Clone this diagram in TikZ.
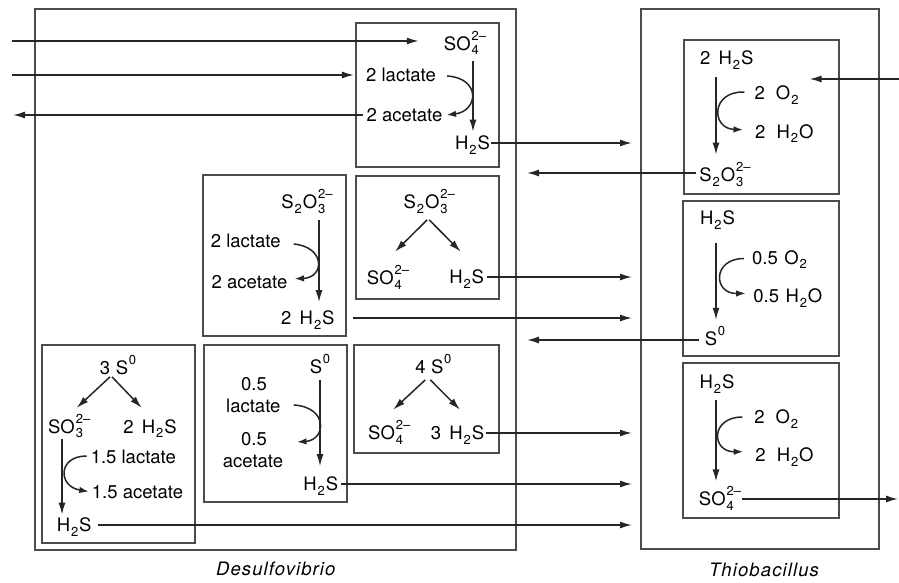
\documentclass[tikz,border=0pt]{standalone}
\usepackage{fontspec}
\setmainfont{TeX Gyre Heros}
\usetikzlibrary{arrows.meta,calc}
\newcommand{\chscr}{\fontsize{13}{13}\selectfont}
\newcommand{\chsub}[1]{\kern0.9pt\raisebox{-4.5pt}{\chscr #1}\kern0.9pt}
\newcommand{\chsup}[1]{\kern0.6pt\raisebox{10pt}{\chscr #1}}
\newcommand{\chss}[2]{\kern0.9pt\rlap{\raisebox{-4.5pt}{\chscr #1}}\raisebox{10pt}{\chscr #2}}
\newcommand{\chg}{2\textendash}
\begin{document}
\begin{tikzpicture}[x=1pt,y=-1pt,
  lbl/.style={inner sep=0pt,text height=13.3pt,text depth=0pt,text=black,font=\fontsize{18.5}{22}\selectfont},
  org/.style={inner sep=0pt,text height=13.3pt,text depth=0pt,text=black,font=\fontsize{18.5}{22}\selectfont\itshape\addfontfeatures{LetterSpace=6}},
  arr/.style={line width=1.5pt,draw=black!85,-{Latex[length=12pt,width=7pt]}},
  carr/.style={line width=1.5pt,draw=black!85,-{Latex[length=9.5pt,width=6.5pt]}},
  box/.style={line width=1.6pt,draw=black!70}]
\fill[white] (0,0) rectangle (899,583);
\useasboundingbox (0,0) rectangle (899,583);
% outer boxes
\draw[box] (35,9) rectangle (516,550);
\draw[box] (641,9) rectangle (879,549);
% inner boxes Desulfovibrio
\draw[box] (356,23) rectangle (499,167);
\draw[box] (203,175) rectangle (346,336);
\draw[box] (356,176) rectangle (499,299);
\draw[box] (42,345) rectangle (195,543);
\draw[box] (204,345) rectangle (347,502);
\draw[box] (354,345) rectangle (499,453);
% inner boxes Thiobacillus
\draw[box] (684,40) rectangle (839,194);
\draw[box] (683,201) rectangle (839,356);
\draw[box] (683,363) rectangle (839,518);

% ---------- Box A ----------
\node[lbl] (sA) at (465,43.5) {SO\chss{4}{\chg}};
\node[lbl] (lacA) at (401,75) {2 lactate};
\node[lbl] (aceA) at (404.5,115) {2 acetate};
\node[lbl] (hA) at (472.5,143) {H\chsub{2}S};
\coordinate (inS) at (12,41);
\coordinate (inL) at (12,75);
\coordinate (outA) at (13,115);
\coordinate (vA) at (473,0);
\coordinate (tA) at (632,143);
\draw[arr] (inS) -- ($(sA.west |- inS)+(-25,0)$);
\draw[arr] (inL) -- ($(lacA.west |- inL)+(-12,0)$);
\draw[arr] ($(aceA.west)+(-3,0)$) -- (outA);
\draw[arr] ($(sA.south -| vA)+(0,11)$) -- ($(hA.north -| vA)+(0,-4.5)$);
\draw[carr] ($(lacA.east)+(11,1)$) .. controls ($(lacA.east)+(45,3)$) and ($(aceA.east)+(36,-4)$) .. ($(aceA.east)+(4,0)$);
\draw[arr] ($(hA.east)+(1,0)$) -- (tA);

% ---------- Box B ----------
\node[lbl] (sB) at (307,202) {S\chsub{2}O\chss{3}{\chg}};
\node[lbl] (lacB) at (245.7,241) {2 lactate};
\node[lbl] (aceB) at (249.5,281.7) {2 acetate};
\node[lbl] (hB) at (307.8,318) {2\hspace{0.45em}H\chsub{2}S};
\coordinate (vB) at (319,0);
\coordinate (tB) at (632,318);
\draw[arr] ($(sB.south -| vB)+(0,11)$) -- ($(hB.north -| vB)+(0,-9)$);
\draw[carr] ($(lacB.east)+(13,3)$) .. controls ($(lacB.east)+(45,6)$) and ($(aceB.east)+(37,-4)$) .. ($(aceB.east)+(7,-3)$);
\draw[arr] ($(hB.east)+(18,0)$) -- (tB);

% ---------- Box C ----------
\node[lbl] (sC) at (429.2,202) {S\chsub{2}O\chss{3}{\chg}};
\node[lbl] (oC) at (388,278) {SO\chss{4}{\chg}};
\node[lbl] (hC) at (466.7,277) {H\chsub{2}S};
\coordinate (tC) at (632,277);
\draw[arr] ($(sC.south)+(-2,11)$) -- ($(oC.north)+(7,-19.5)$);
\draw[arr] ($(sC.south)+(0,11)$) -- ($(hC.north)+(-6,-18.5)$);
\draw[arr] ($(hC.east)+(3,0)$) -- (tC);

% ---------- Box D ----------
\node[lbl] (sD) at (118,368) {3\hspace{0.3em}S\chsup{0}};
\node[lbl] (oD) at (69.2,426.7) {SO\chss{3}{\chg}};
\node[lbl] (h2D) at (150,426.7) {2\hspace{0.45em}H\chsub{2}S};
\node[lbl] (lacD) at (133.3,457) {1.5 lactate};
\node[lbl] (aceD) at (137.5,491.5) {1.5 acetate};
\node[lbl] (hD) at (74.2,525) {H\chsub{2}S};
\coordinate (vD) at (62,0);
\coordinate (tD) at (632,525);
\draw[arr] ($(sD.south)+(-8,2)$) -- ($(oD.north)+(7.5,-12)$);
\draw[arr] ($(sD.south)+(-6,2)$) -- ($(h2D.north)+(-8.3,-12)$);
\draw[arr] ($(oD.south -| vD)+(0,5)$) -- ($(hD.north -| vD)+(0,-3.5)$);
\draw[carr] ($(lacD.west)+(-4,-1)$) .. controls ($(lacD.west)+(-33,-1)$) and ($(aceD.west)+(-34,-5)$) .. ($(aceD.west)+(-3,0)$);
\draw[arr] ($(hD.east)+(6,0)$) -- (tD);

% ---------- Box E ----------
\node[lbl] (sE) at (320,367) {S\chsup{0}};
\node[lbl] (l1E) at (254,384) {0.5};
\node[lbl] (l2E) at (253.3,406) {lactate};
\node[lbl] (a1E) at (254,439) {0.5};
\node[lbl] (a2E) at (253,461) {acetate};
\node[lbl] (hE) at (320.8,484) {H\chsub{2}S};
\coordinate (vE) at (320,0);
\coordinate (tE) at (632,484);
\draw[arr] ($(sE.south -| vE)+(0,6)$) -- ($(hE.north -| vE)+(0,-11)$);
\draw[carr] ($(l2E.east)+(13,-1)$) .. controls ($(l2E.east)+(48,1)$) and ($(a1E.east)+(59,1)$) .. ($(a1E.east)+(30,3)$);
\draw[arr] ($(hE.east)+(3,0)$) -- (tE);

% ---------- Box F ----------
\node[lbl] (sF) at (433.3,367) {4\hspace{0.3em}S\chsup{0}};
\node[lbl] (oF) at (389.2,433) {SO\chss{4}{\chg}};
\node[lbl] (hF) at (457.5,433) {3\hspace{0.45em}H\chsub{2}S};
\coordinate (tF) at (632,433);
\draw[arr] ($(sF.south)+(-8,6)$) -- ($(oF.north)+(4,-16.5)$);
\draw[arr] ($(sF.south)+(-3,6)$) -- ($(hF.north)+(2.5,-16.5)$);
\draw[arr] ($(hF.east)+(2,0)$) -- (tF);

% ---------- Box G ----------
\node[lbl] (hG) at (726.7,58) {2\hspace{0.45em}H\chsub{2}S};
\node[lbl] (oG) at (777,93) {2\hspace{0.6em}O\chsub{2}};
\node[lbl] (wG) at (784.3,131.7) {2\hspace{0.6em}H\chsub{2}O};
\node[lbl] (sG) at (725,175) {S\chsub{2}O\chss{3}{\chg}};
\coordinate (vG) at (716,0);
\coordinate (inO) at (899,79);
\coordinate (tG) at (527,173);
\draw[arr] ($(hG.south -| vG)+(0,12)$) -- ($(sG.north -| vG)+(0,-13.5)$);
\draw[carr] ($(oG.west)+(-10,-1)$) .. controls ($(oG.west)+(-44,-2)$) and ($(wG.west)+(-44,-3)$) .. ($(wG.west)+(-12,-2)$);
\draw[arr] (inO) -- ($(oG.east |- inO)+(10,0)$);
\draw[arr] ($(sG.west)+(-3,-2)$) -- (tG);

% ---------- Box H ----------
\node[lbl] (hH) at (717.5,218) {H\chsub{2}S};
\node[lbl] (oH) at (780,257.5) {0.5\hspace{0.35em}O\chsub{2}};
\node[lbl] (wH) at (787.8,296) {0.5\hspace{0.35em}H\chsub{2}O};
\node[lbl] (sH) at (715,339) {S\chsup{0}};
\coordinate (vH) at (716,0);
\coordinate (tH) at (527,340);
\draw[arr] ($(hH.south -| vH)+(0,18.3)$) -- ($(sH.north -| vH)+(0,-12.3)$);
\draw[carr] ($(oH.west)+(-8,1)$) .. controls ($(oH.west)+(-40,1)$) and ($(wH.west)+(-40,-2)$) .. ($(wH.west)+(-7.5,-2.7)$);
\draw[arr] ($(sH.west)+(-6,1)$) -- (tH);

% ---------- Box I ----------
\node[lbl] (hI) at (717,382) {H\chsub{2}S};
\node[lbl] (oI) at (776.7,417) {2\hspace{0.6em}O\chsub{2}};
\node[lbl] (wI) at (784.5,455) {2\hspace{0.6em}H\chsub{2}O};
\node[lbl] (sI) at (720,499) {SO\chss{4}{\chg}};
\coordinate (vI) at (716,0);
\coordinate (tI) at (898,499);
\draw[arr] ($(hI.south -| vI)+(0,11.3)$) -- ($(sI.north -| vI)+(0,-10.7)$);
\draw[carr] ($(oI.west)+(-11.7,0)$) .. controls ($(oI.west)+(-44,0)$) and ($(wI.west)+(-44,-3)$) .. ($(wI.west)+(-12,-3.3)$);
\draw[arr] ($(sI.east)+(1,0)$) -- (tI);

% labels
\node[org] (dLab) at (275.8,569.3) {Desulfovibrio};
\node[org] (tLab) at (764,570) {Thiobacillus};
\end{tikzpicture}
\end{document}
